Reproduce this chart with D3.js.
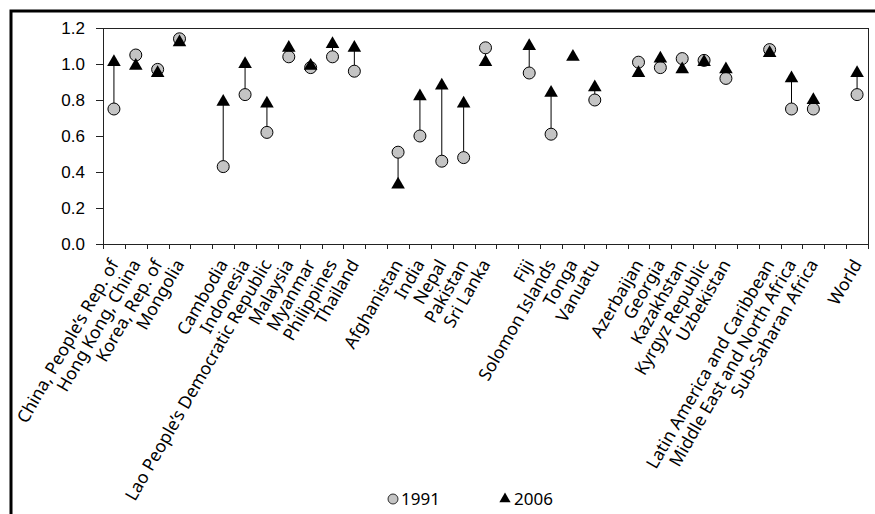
<!DOCTYPE html>
<html>
<head>
    <meta charset="utf-8">
    <title>1991 vs 2006</title>
    <script src="https://cdnjs.cloudflare.com/ajax/libs/d3/7.8.5/d3.min.js"></script>
    <style>
        body { margin: 0; background: #fff; }
        svg { display: block; font-family: "Noto Sans", sans-serif; }
        .axis path, .axis line { stroke: #222; stroke-width: 1; shape-rendering: crispEdges; }
        .axis text { font-size: 17px; fill: #000; }
    </style>
</head>
<body>
    <div id="chart"></div>
    <script>
        // categories in order; "" marks an empty slot between groups
        const categories = [
            "China, People’s Rep. of", "Hong Kong, China", "Korea, Rep. of", "Mongolia", "",
            "Cambodia", "Indonesia", "Lao People’s Democratic Republic", "Malaysia", "Myanmar", "Philippines", "Thailand", "",
            "Afghanistan", "India", "Nepal", "Pakistan", "Sri Lanka", "",
            "Fiji", "Solomon Islands", "Tonga", "Vanuatu", "",
            "Azerbaijan", "Georgia", "Kazakhstan", "Kyrgyz Republic", "Uzbekistan", "",
            "Latin America and Caribbean", "Middle East and North Africa", "Sub-Saharan Africa", "",
            "World"
        ];
        const values1991 = [
            0.75, 1.05, 0.97, 1.14, null,
            0.43, 0.83, 0.62, 1.04, 0.98, 1.04, 0.96, null,
            0.51, 0.60, 0.46, 0.48, 1.09, null,
            0.95, 0.61, null, 0.80, null,
            1.01, 0.98, 1.03, 1.02, 0.92, null,
            1.08, 0.75, 0.75, null,
            0.83
        ];
        const values2006 = [
            1.01, 0.99, 0.95, 1.12, null,
            0.79, 1.00, 0.78, 1.09, 0.99, 1.11, 1.09, null,
            0.33, 0.82, 0.88, 0.78, 1.01, null,
            1.10, 0.84, 1.04, 0.87, null,
            0.95, 1.03, 0.97, 1.01, 0.97, null,
            1.06, 0.92, 0.80, null,
            0.95
        ];
        const yTicks = [0, 0.2, 0.4, 0.6, 0.8, 1.0, 1.2];
        const seriesNames = ["1991", "2006"];

        const W = 875, H = 514;
        const plot = {left: 103, right: 868, top: 28, bottom: 244};

        const svg = d3.select("#chart").append("svg")
            .attr("width", W).attr("height", H);

        // outer frame (right and bottom edges fall outside the picture)
        svg.append("rect")
            .attr("x", 11).attr("y", 11)
            .attr("width", W + 20).attr("height", H + 20)
            .attr("fill", "none").attr("stroke", "#000").attr("stroke-width", 3);

        const slots = categories.map((c, i) => i);
        const x = d3.scaleBand().domain(slots).range([plot.left, plot.right]).padding(0);
        const y = d3.scaleLinear().domain([0, 1.2]).range([plot.bottom, plot.top]);

        // plot frame
        svg.append("rect")
            .attr("x", plot.left).attr("y", plot.top)
            .attr("width", plot.right - plot.left).attr("height", plot.bottom - plot.top)
            .attr("fill", "none").attr("stroke", "#222").attr("stroke-width", 1)
            .attr("shape-rendering", "crispEdges");

        // y axis
        svg.append("g")
            .attr("class", "axis")
            .attr("transform", `translate(${plot.left},0)`)
            .call(d3.axisLeft(y).tickValues(yTicks).tickFormat(d3.format(".1f")).tickSize(7).tickPadding(11).tickSizeOuter(0));

        // x ticks on slot boundaries
        const xIdx = d3.scaleLinear().domain([0, categories.length]).range([plot.left, plot.right]);
        svg.append("g")
            .attr("class", "axis")
            .attr("transform", `translate(0,${plot.bottom})`)
            .call(d3.axisBottom(xIdx).tickValues(d3.range(0, categories.length + 1))
                .tickFormat("").tickSize(5).tickSizeOuter(0));

        // category labels
        svg.append("g")
            .selectAll("text")
            .data(slots.filter(i => categories[i]))
            .join("text")
            .attr("transform", i => `translate(${x(i) + x.bandwidth() / 2},261) rotate(-60)`)
            .attr("text-anchor", "end")
            .attr("dy", "0.35em")
            .style("font-size", "17.5px")
            .text(i => categories[i]);

        const cx = i => x(i) + x.bandwidth() / 2;

        // connectors
        svg.append("g")
            .selectAll("line")
            .data(slots.filter(i => values1991[i] != null && values2006[i] != null))
            .join("line")
            .attr("x1", cx).attr("x2", cx)
            .attr("y1", i => y(values1991[i])).attr("y2", i => y(values2006[i]))
            .attr("stroke", "#000").attr("stroke-width", 1);

        // 1991 circles
        svg.append("g")
            .selectAll("circle")
            .data(slots.filter(i => values1991[i] != null))
            .join("circle")
            .attr("cx", cx).attr("cy", i => y(values1991[i]))
            .attr("r", 6)
            .attr("fill", "#c4c4c4").attr("stroke", "#000").attr("stroke-width", 1);

        // 2006 triangles
        const tri = d3.symbol().type(d3.symbolTriangle).size(80);
        svg.append("g")
            .selectAll("path")
            .data(slots.filter(i => values2006[i] != null))
            .join("path")
            .attr("d", tri)
            .attr("transform", i => `translate(${cx(i)},${y(values2006[i])})`)
            .attr("fill", "#000");

        // legend
        const legend = svg.append("g");
        legend.append("circle")
            .attr("cx", 393).attr("cy", 499).attr("r", 5)
            .attr("fill", "#c4c4c4").attr("stroke", "#000").attr("stroke-width", 0.8);
        legend.append("text")
            .attr("x", 401).attr("y", 499).attr("dy", "0.35em")
            .style("font-size", "17px").text(seriesNames[0]);
        legend.append("path")
            .attr("d", d3.symbol().type(d3.symbolTriangle).size(55))
            .attr("transform", "translate(505,499)")
            .attr("fill", "#000");
        legend.append("text")
            .attr("x", 514).attr("y", 499).attr("dy", "0.35em")
            .style("font-size", "17px").text(seriesNames[1]);
    </script>
</body>
</html>
